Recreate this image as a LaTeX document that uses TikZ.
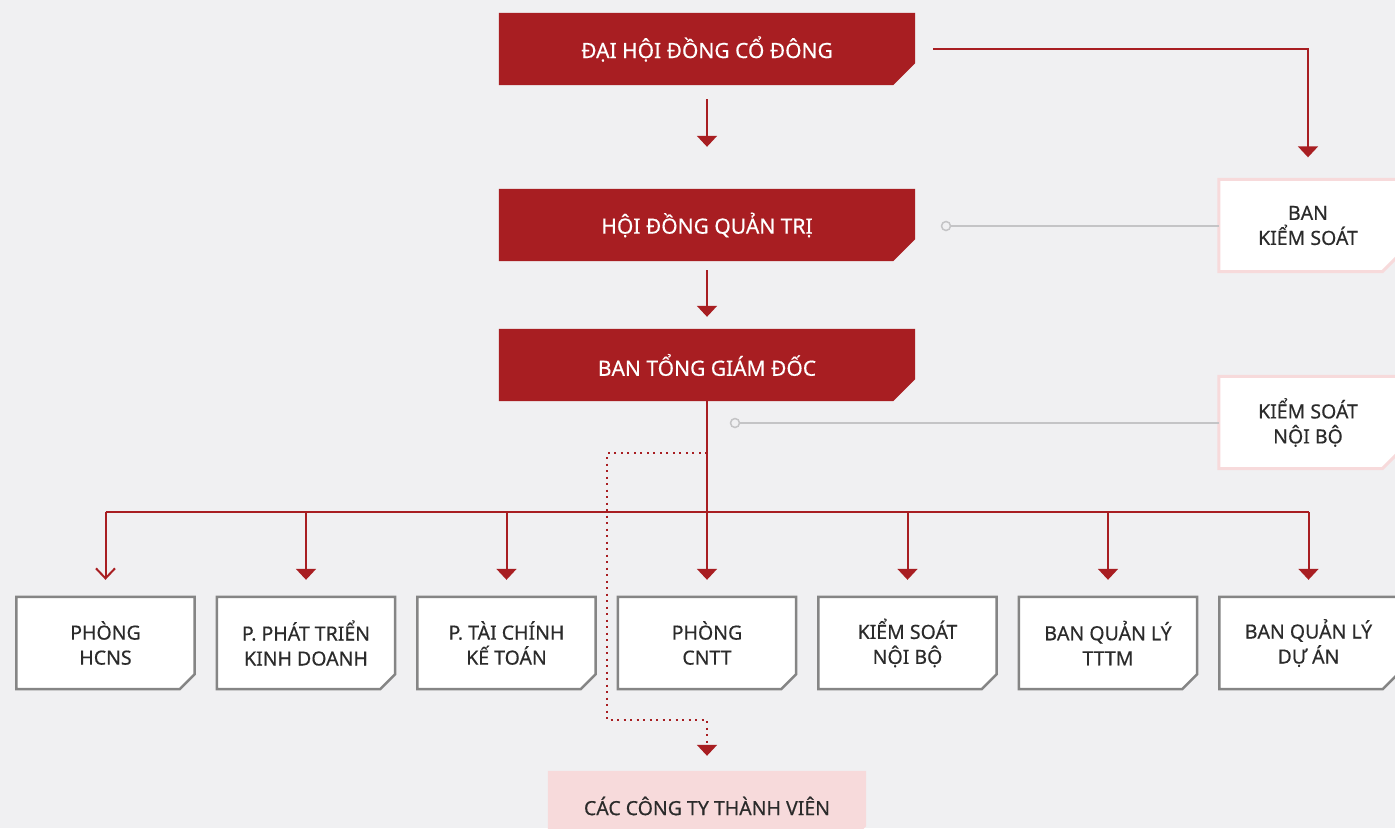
\documentclass[tikz,border=0pt]{standalone}
\usepackage{fontspec}
\setmainfont{Noto Sans}[FakeBold=0.4]
\usetikzlibrary{arrows.meta,backgrounds}
\definecolor{bg}{HTML}{F0F0F2}
\definecolor{dred}{HTML}{A81E22}
\definecolor{pink}{HTML}{F7DADB}
\definecolor{txt}{HTML}{2B2B2B}
\definecolor{lgray}{HTML}{C4C4C6}
\definecolor{bgray}{HTML}{858585}
\tikzset{
  redbox/.style={minimum width=416pt,minimum height=72pt,inner sep=0pt,text=white,font=\fontsize{21}{25}\selectfont},
  whitebox/.style={minimum width=178pt,minimum height=92pt,inner sep=0pt,text=txt,align=center,font=\fontsize{19.5}{25}\selectfont},
  link/.style={dred,line width=2pt,-{Triangle[width=20pt,length=11pt]}},
  openlink/.style={dred,line width=2pt,-{Straight Barb[width=19pt,length=10pt]}},
  dotlink/.style={dred,line width=2pt,dash pattern=on 2pt off 4.5pt,-{Triangle[width=20pt,length=11pt]}},
  graylink/.style={lgray,line width=2pt},
  dot/.style={circle,draw=lgray,line width=1.5pt,fill=bg,inner sep=0pt,minimum size=9pt}
}
\newcommand{\cutshape}[3]{\path[#3] (#1.north west) -- (#1.north east) -- ([yshift=#2]#1.south east) -- ([xshift=-#2]#1.south east) -- (#1.south west) -- cycle;}

\begin{document}
\begin{tikzpicture}[x=1pt,y=-1pt]
       \useasboundingbox (0,0) rectangle (1395,828);
       \node[redbox] (dh) at (707,49) {ĐẠI HỘI ĐỒNG CỔ ĐÔNG};
       \node[redbox] (hd) at (707,225) {HỘI ĐỒNG QUẢN TRỊ};
       \node[redbox] (tgd) at (707,365) {BAN TỔNG GIÁM ĐỐC};
       \node[whitebox] (bks) at (1308,225.5) {BAN\\KIỂM SOÁT};
       \node[whitebox] (ksnb) at (1308,422.5) {KIỂM SOÁT\\NỘI BỘ};
       \foreach \t [count=\i from 0] in {{PHÒNG\\HCNS},{P. PHÁT TRIỂN\\KINH DOANH},{P. TÀI CHÍNH\\KẾ TOÁN},{PHÒNG\\CNTT},{KIỂM SOÁT\\NỘI BỘ},{BAN QUẢN LÝ\\TTTM},{BAN QUẢN LÝ\\DỰ ÁN}} {
       \node[whitebox] (p\i) at (707+200.5*\i-601.5,643) {\t};}
       \node[whitebox,minimum width=318pt,minimum height=70pt] (cty) at (707,806) {CÁC CÔNG TY THÀNH VIÊN};
       \node[dot] (d1) at (946,226) {};
       \node[dot] (d2) at (735,423) {};
       \coordinate (bus) at (707,512);
       \coordinate (dt) at (707,453);
       \coordinate (db) at (707,720);
       \begin{scope}[on background layer]
       \fill[bg] (0,0) rectangle (1395,828);
       \foreach \n in {dh,hd,tgd} {\cutshape{\n}{22pt}{fill=dred}}
       \foreach \n in {bks,ksnb} {\cutshape{\n}{15pt}{fill=white,draw=pink,line width=3pt}}
       \foreach \i in {0,...,6} {\cutshape{p\i}{15pt}{fill=white,draw=bgray,line width=2.5pt}}
       \cutshape{cty}{15pt}{fill=pink}
       \end{scope}
       \draw[link,shorten <=14pt,shorten >=42pt] (dh) -- (hd);
       \draw[link,shorten <=9pt,shorten >=12pt] (hd) -- (tgd);
       \draw[link] ([xshift=18pt]dh.east) -| ([yshift=22pt]bks.north);
       \draw[graylink] (d1.east) -- (d1 -| bks.west);
       \draw[graylink] (d2.east) -- (d2 -| ksnb.west);
       \draw[dred,line width=2pt] (p0 |- bus) -- (p6 |- bus);
       \draw[link,shorten >=17pt] (tgd) -- (p3);
       \foreach \i in {1,2,4,5,6} {\draw[link,shorten >=17pt] (p\i |- bus) -- (p\i);}
       \draw[openlink,shorten >=17pt] (p0 |- bus) -- (p0);
       \draw[dotlink,shorten >=15pt] (dt) -- ++(-100,0) |- (db) -- (cty);
       \end{tikzpicture}
\end{document}
